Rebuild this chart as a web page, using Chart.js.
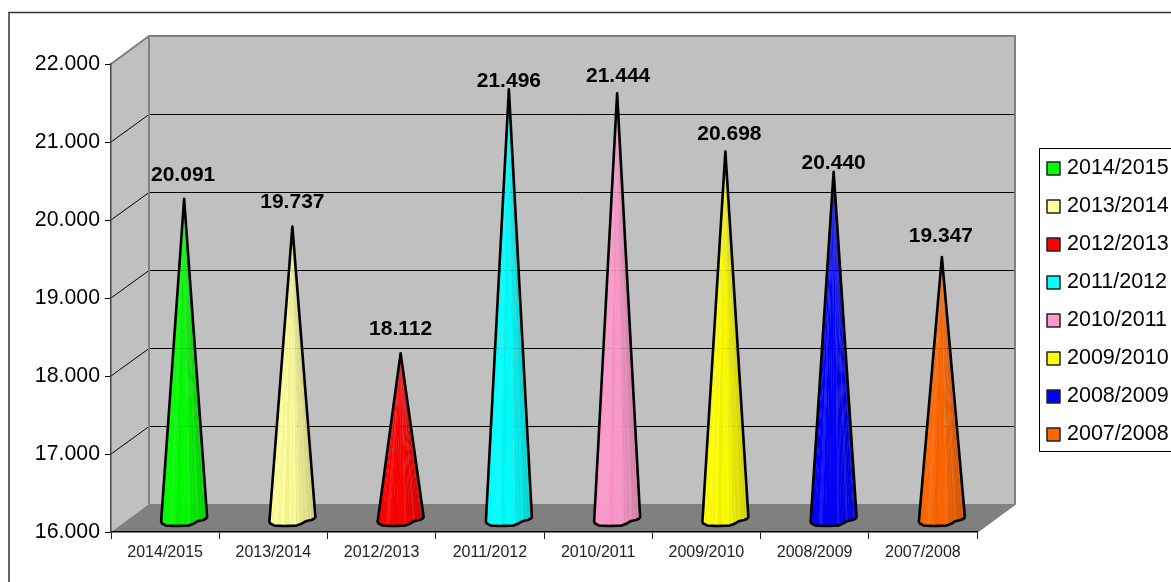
<!DOCTYPE html>
<html>
<head>
<meta charset="utf-8">
<title>Cones</title>
<script src="https://cdn.jsdelivr.net/npm/chart.js@4/dist/chart.umd.min.js"></script>
<style>
  html, body { margin: 0; padding: 0; background: #fff; overflow: hidden; }
  canvas { display: block; }
</style>
</head>
<body>
<canvas id="grafico" width="1171" height="582"></canvas>
<script>
// dados do grafico
const safras = ['2014/2015', '2013/2014', '2012/2013', '2011/2012', '2010/2011', '2009/2010', '2008/2009', '2007/2008'];
const valores = [20091, 19737, 18112, 21496, 21444, 20698, 20440, 19347];
const cores = ['#00ff00', '#ffff99', '#ff0000', '#00ffff', '#ff99cc', '#ffff00', '#0000ff', '#ff6600'];

const FONTE = '"Liberation Sans", Arial, sans-serif';
const DX = 38, DY = 28; // profundidade do "3D"

// ajuste manual de cada rotulo em relacao a ponta do cone
const ajusteRotulo = [[-1, -24], [0, -24], [0, -24], [0, -8], [1, -17], [4, -17], [0, -8], [-1, -21]];
// contorno da base do cone, relativo ao centro
const contornoBase = [[-23, 3.7], [-22, 5.5], [-18, 7.7], [-8, 8], [4, 7.7], [9, 5.8], [14, 3], [19, 2], [22, 0.5], [23, -1]];
// sombreamento: esquerda clara, direita escura, com listras
const sombra = [1, .97, 1, .98, 1, .96, 1, .95, .98, .93, .96, .9, .93, .88, .9, .85, .87, .82, .84, .8, .82, .78];

const fmt = v => String(v).replace(/\B(?=(\d{3})+$)/g, '.');

function tom(hex, f, claro) {
  const n = parseInt(hex.slice(1), 16);
  const c = [n >> 16, (n >> 8) & 255, n & 255].map(v => Math.round(v * f + (255 - v * f) * claro));
  return `rgb(${c[0]},${c[1]},${c[2]})`;
}

function desenhaCone(ctx, cx, tipY, baseY, cor) {
  // pontos ao longo da base
  const pts = [];
  for (let i = 0; i < contornoBase.length - 1; i++) {
    const a = contornoBase[i], b = contornoBase[i + 1];
    const n = 3;
    for (let k = 0; k < n; k++) {
      pts.push([a[0] + (b[0] - a[0]) * k / n, a[1] + (b[1] - a[1]) * k / n]);
    }
  }
  pts.push(contornoBase[contornoBase.length - 1]);

  for (let i = 0; i < pts.length - 1; i++) {
    const s = sombra[Math.floor(i / (pts.length - 1) * sombra.length)];
    const claro = i % 5 === 2 ? 0.1 : 0;
    ctx.fillStyle = tom(cor, s, claro);
    ctx.beginPath();
    ctx.moveTo(cx, tipY);
    ctx.lineTo(cx + pts[i][0], baseY + pts[i][1]);
    ctx.lineTo(cx + pts[i + 1][0] + 0.4, baseY + pts[i + 1][1]);
    ctx.closePath();
    ctx.fill();
  }

  ctx.beginPath();
  ctx.moveTo(cx, tipY);
  pts.forEach(p => ctx.lineTo(cx + p[0], baseY + p[1]));
  ctx.closePath();
  ctx.strokeStyle = '#000';
  ctx.lineWidth = 2.6;
  ctx.lineJoin = 'round';
  ctx.stroke();
}

// paredes, piso, linhas de grade e moldura
const paredes = {
  id: 'paredes',
  beforeDraw(chart) {
    const { ctx, chartArea: a, scales: { y } } = chart;
    ctx.save();

    // moldura externa
    ctx.strokeStyle = '#333';
    ctx.lineWidth = 1.5;
    ctx.beginPath();
    ctx.moveTo(9, 582);
    ctx.lineTo(9, 12.5);
    ctx.lineTo(1171, 12.5);
    ctx.stroke();

    // parede lateral + fundo
    ctx.fillStyle = '#c0c0c0';
    ctx.beginPath();
    ctx.moveTo(a.left, a.top);
    ctx.lineTo(a.left + DX, a.top - DY);
    ctx.lineTo(a.right + DX, a.top - DY);
    ctx.lineTo(a.right + DX, a.bottom - DY);
    ctx.lineTo(a.left + DX, a.bottom - DY);
    ctx.lineTo(a.left, a.bottom);
    ctx.closePath();
    ctx.fill();

    // piso
    ctx.fillStyle = '#808080';
    ctx.beginPath();
    ctx.moveTo(a.left, a.bottom);
    ctx.lineTo(a.left + DX, a.bottom - DY);
    ctx.lineTo(a.right + DX, a.bottom - DY);
    ctx.lineTo(a.right, a.bottom);
    ctx.closePath();
    ctx.fill();

    // grade
    ctx.strokeStyle = '#000';
    ctx.lineWidth = 1;
    y.ticks.forEach(t => {
      if (t.value === y.min || t.value === y.max) return;
      const py = y.getPixelForValue(t.value);
      const fundo = Math.floor(py - DY) + 0.5;
      ctx.beginPath();
      ctx.moveTo(a.left, py);
      ctx.lineTo(a.left + DX, fundo);
      ctx.lineTo(a.right + DX - 1, fundo);
      ctx.stroke();
    });

    // arestas cinzas
    ctx.strokeStyle = '#808080';
    ctx.lineWidth = 2;
    ctx.beginPath();
    ctx.moveTo(a.left, a.top);
    ctx.lineTo(a.left + DX, a.top - DY);
    ctx.lineTo(a.right + DX, a.top - DY);
    ctx.lineTo(a.right + DX, a.bottom - DY);
    ctx.lineTo(a.right, a.bottom);
    ctx.moveTo(a.left + DX, a.top - DY);
    ctx.lineTo(a.left + DX, a.bottom - DY);
    ctx.stroke();
    ctx.restore();
  },
  // as barras viram cones
  beforeDatasetDraw(chart, args) {
    const { ctx, scales: { y } } = chart;
    const ds = chart.data.datasets[args.index];
    const base = y.getPixelForValue(y.min);
    args.meta.data.forEach((bar, i) => {
      desenhaCone(ctx, bar.x + DX / 2, bar.y - DY / 2, base - DY / 2, ds.backgroundColor[i]);
    });
    return false;
  },
  afterDatasetsDraw(chart) {
    const { ctx } = chart;
    const meta = chart.getDatasetMeta(0);
    ctx.save();
    ctx.fillStyle = '#000';
    ctx.font = 'bold 21px ' + FONTE;
    ctx.textAlign = 'center';
    ctx.textBaseline = 'middle';
    meta.data.forEach((bar, i) => {
      const [dx, dy] = ajusteRotulo[i];
      ctx.fillText(fmt(valores[i]), bar.x + DX / 2 + dx, bar.y - DY / 2 + dy);
    });

    // legenda
    ctx.fillStyle = '#fff';
    ctx.fillRect(1039.5, 148.5, 140, 303);
    ctx.strokeStyle = '#000';
    ctx.lineWidth = 1;
    ctx.strokeRect(1039.5, 148.5, 140, 303);
    ctx.font = '21.5px ' + FONTE;
    ctx.textAlign = 'left';
    safras.forEach((s, i) => {
      const yy = 168 + i * 38;
      ctx.fillStyle = cores[i];
      ctx.fillRect(1047, yy - 6, 13, 13);
      ctx.strokeStyle = '#222';
      ctx.lineWidth = 1.5;
      ctx.strokeRect(1047, yy - 6, 13, 13);
      ctx.fillStyle = '#000';
      ctx.fillText(s, 1067, yy);
    });
    ctx.restore();
  }
};

new Chart(document.getElementById('grafico'), {
  type: 'bar',
  data: {
    labels: safras,
    datasets: [{ label: 'Safra', data: valores, backgroundColor: cores }]
  },
  options: {
    responsive: false,
    animation: false,
    layout: { padding: { top: 64, right: 194, left: 0, bottom: 0 } },
    plugins: { legend: { display: false }, tooltip: { enabled: false } },
    scales: {
      x: {
        afterFit(scale) { scale.height = 50; },
        border: { color: '#000', width: 1.5 },
        grid: { drawOnChartArea: false, offset: true, tickLength: 7, color: '#222', tickColor: '#222' },
        ticks: { color: '#222', padding: 4, maxRotation: 0, autoSkip: false, font: { family: FONTE, size: 16 } }
      },
      y: {
        min: 16000,
        max: 22000,
        afterFit(scale) { scale.width = 111; },
        border: { color: '#444', width: 1.5 },
        grid: { drawOnChartArea: false, tickLength: 6, color: '#000', tickColor: '#000' },
        ticks: { stepSize: 1000, color: '#000', padding: 5, font: { family: FONTE, size: 21.3 }, callback: v => fmt(v) }
      }
    }
  },
  plugins: [paredes]
});
</script>
</body>
</html>
